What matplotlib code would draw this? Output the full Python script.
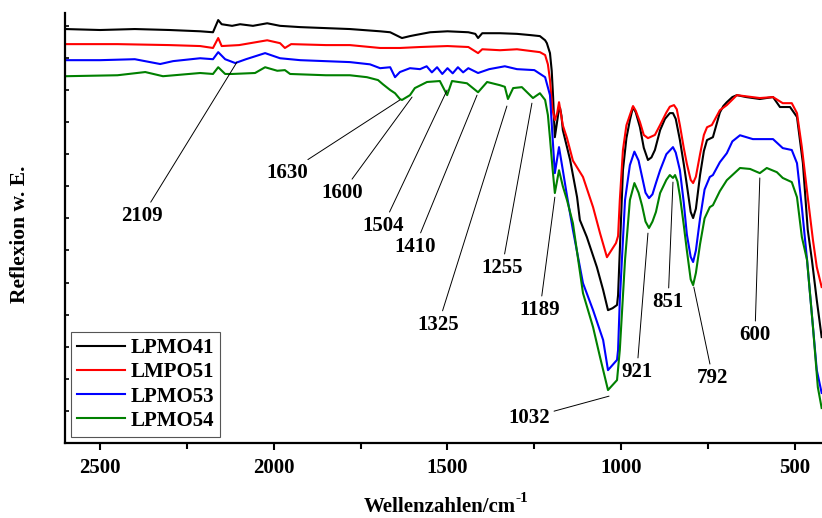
import matplotlib
matplotlib.use("Agg")
import matplotlib.pyplot as plt

plt.rcParams['font.family'] = ['Liberation Serif', 'DejaVu Serif']
plt.rcParams['font.weight'] = 'bold'

# ---- data (wavenumber in cm^-1, reflectance in arbitrary units) ----
wn_lpmo41 = [2600, 2500, 2400, 2300, 2212, 2175, 2160, 2150, 2120, 2097, 2060, 2019, 1982, 1924,
             1781, 1694, 1665, 1637, 1631, 1608, 1594, 1550, 1500, 1440, 1420, 1412, 1400, 1349,
             1300, 1260, 1234, 1219, 1214, 1205, 1200, 1196, 1191, 1186, 1180, 1176, 1172, 1168,
             1147, 1127, 1119, 1099, 1070, 1052, 1038, 1025, 1012, 1009, 1004, 995, 985, 975, 966,
             958, 946, 935, 923, 913, 903, 888, 874, 860, 851, 843, 831, 820, 811, 800, 793, 785,
             773, 762, 753, 736, 716, 706, 696, 680, 667, 640, 601, 563, 543, 514, 494, 477, 463,
             451, 437, 423]
r_lpmo41 = [1.290, 1.287, 1.290, 1.287, 1.283, 1.280, 1.318, 1.305, 1.300, 1.305, 1.300, 1.308,
            1.300, 1.296, 1.290, 1.283, 1.280, 1.265, 1.262, 1.268, 1.271, 1.280, 1.283, 1.280,
            1.275, 1.262, 1.277, 1.277, 1.275, 1.271, 1.268, 1.255, 1.246, 1.215, 1.160, 1.078,
            0.953, 0.990, 1.035, 1.044, 1.020, 0.975, 0.882, 0.766, 0.695, 0.642, 0.548, 0.477,
            0.414, 0.420, 0.430, 0.461, 0.600, 0.850, 0.950, 1.006, 1.047, 1.030, 0.984, 0.920,
            0.882, 0.890, 0.913, 0.975, 1.010, 1.028, 1.028, 1.010, 0.944, 0.870, 0.804, 0.720,
            0.701, 0.730, 0.835, 0.910, 0.944, 0.953, 1.030, 1.050, 1.062, 1.078, 1.084, 1.078,
            1.072, 1.078, 1.047, 1.047, 1.016, 0.872, 0.664, 0.570, 0.445, 0.330]

wn_lmpo51 = [2600, 2450, 2300, 2212, 2175, 2160, 2150, 2100, 2019, 1982, 1968, 1950, 1850, 1781,
             1694, 1637, 1579, 1500, 1440, 1412, 1400, 1349, 1300, 1234, 1219, 1211, 1205, 1198,
             1191, 1184, 1179, 1168, 1156, 1139, 1110, 1081, 1061, 1041, 1015, 1009, 1004, 995,
             985, 975, 966, 958, 946, 935, 923, 913, 903, 888, 870, 860, 848, 840, 831, 820, 811,
             800, 793, 785, 773, 762, 753, 739, 716, 696, 667, 601, 563, 535, 509, 494, 480, 463,
             448, 437, 423]
r_lmpo51 = [1.243, 1.243, 1.240, 1.237, 1.231, 1.262, 1.237, 1.240, 1.255, 1.246, 1.231, 1.243,
            1.240, 1.240, 1.231, 1.231, 1.234, 1.237, 1.234, 1.215, 1.227, 1.224, 1.227, 1.218,
            1.209, 1.180, 1.131, 1.040, 1.006, 1.030, 1.062, 0.990, 0.950, 0.880, 0.829, 0.735,
            0.654, 0.579, 0.623, 0.645, 0.757, 0.913, 0.990, 1.022, 1.050, 1.035, 1.000, 0.960,
            0.950, 0.955, 0.960, 0.991, 1.030, 1.048, 1.053, 1.040, 0.990, 0.920, 0.870, 0.820,
            0.810, 0.830, 0.900, 0.960, 0.984, 0.991, 1.037, 1.053, 1.084, 1.075, 1.078, 1.059,
            1.059, 1.028, 0.922, 0.766, 0.632, 0.548, 0.486]

wn_lpmo53 = [2600, 2500, 2400, 2327, 2290, 2212, 2175, 2160, 2140, 2111, 2080, 2025, 1982, 1924,
             1781, 1723, 1694, 1665, 1651, 1637, 1608, 1579, 1560, 1545, 1530, 1515, 1500, 1485,
             1470, 1455, 1440, 1412, 1380, 1335, 1300, 1250, 1219, 1205, 1198, 1191, 1179, 1168,
             1156, 1139, 1110, 1081, 1052, 1038, 1012, 1009, 1004, 989, 975, 962, 950, 940, 930,
             920, 910, 900, 888, 870, 851, 843, 831, 820, 811, 800, 793, 785, 773, 760, 745, 736,
             716, 696, 680, 658, 621, 563, 535, 509, 494, 480, 465, 437, 423]
r_lpmo53 = [1.193, 1.193, 1.196, 1.181, 1.190, 1.199, 1.196, 1.218, 1.196, 1.184, 1.196, 1.215,
            1.199, 1.193, 1.187, 1.180, 1.168, 1.171, 1.140, 1.156, 1.168, 1.165, 1.174, 1.155,
            1.171, 1.150, 1.168, 1.152, 1.171, 1.155, 1.168, 1.153, 1.165, 1.174, 1.165, 1.162,
            1.140, 1.084, 0.960, 0.841, 0.922, 0.850, 0.770, 0.664, 0.498, 0.414, 0.321, 0.227,
            0.259, 0.290, 0.445, 0.757, 0.866, 0.908, 0.880, 0.830, 0.780, 0.763, 0.775, 0.810,
            0.850, 0.900, 0.922, 0.905, 0.850, 0.750, 0.650, 0.580, 0.564, 0.600, 0.700, 0.790,
            0.829, 0.835, 0.875, 0.903, 0.940, 0.959, 0.947, 0.947, 0.919, 0.913, 0.872, 0.735,
            0.570, 0.227, 0.156]

wn_lpmo54 = [2600, 2450, 2370, 2319, 2212, 2175, 2160, 2140, 2120, 2054, 2025, 1990, 1968, 1953,
             1850, 1781, 1732, 1700, 1686, 1665, 1651, 1637, 1631, 1608, 1594, 1559, 1522, 1501,
             1487, 1444, 1412, 1386, 1349, 1335, 1326, 1311, 1286, 1254, 1234, 1219, 1211, 1205,
             1198, 1191, 1179, 1168, 1156, 1139, 1110, 1081, 1061, 1038, 1012, 1004, 989, 975,
             962, 950, 940, 930, 920, 910, 900, 888, 870, 860, 851, 845, 838, 831, 820, 811, 800,
             793, 785, 773, 760, 745, 736, 716, 696, 658, 629, 601, 581, 552, 535, 509, 494, 480,
             465, 448, 434, 423]
r_lpmo54 = [1.143, 1.146, 1.156, 1.143, 1.153, 1.150, 1.171, 1.150, 1.150, 1.153, 1.171, 1.160,
            1.162, 1.150, 1.146, 1.146, 1.140, 1.131, 1.118, 1.100, 1.090, 1.072, 1.069, 1.084,
            1.106, 1.125, 1.128, 1.084, 1.128, 1.121, 1.093, 1.125, 1.115, 1.110, 1.072, 1.106,
            1.109, 1.075, 1.090, 1.069, 1.022, 0.950, 0.860, 0.779, 0.850, 0.800, 0.757, 0.685,
            0.467, 0.361, 0.268, 0.165, 0.196, 0.290, 0.570, 0.757, 0.810, 0.780, 0.740, 0.690,
            0.670, 0.690, 0.720, 0.779, 0.820, 0.835, 0.826, 0.835, 0.815, 0.770, 0.680, 0.600,
            0.510, 0.492, 0.530, 0.620, 0.700, 0.735, 0.741, 0.785, 0.819, 0.857, 0.854, 0.841,
            0.857, 0.844, 0.826, 0.813, 0.766, 0.642, 0.570, 0.361, 0.174, 0.109]

series_names = ["LPMO41", "LMPO51", "LPMO53", "LPMO54"]
series_colors = ["black", "red", "blue", "green"]

# peak labels: label, peak point (wn, value), label position (wn, value)
peak_labels = ["2109", "1630", "1600", "1504", "1410", "1325", "1255", "1189",
               "921", "851", "600", "792", "1032"]
peak_wn = [2106, 1637, 1602, 1501, 1415, 1329, 1257, 1191, 923, 851, 601, 791, 1035]
peak_val = [1.187, 1.069, 1.078, 1.100, 1.084, 1.050, 1.059, 0.766, 0.654, 0.813, 0.826, 0.486, 0.146]
label_wn = [2379, 1962, 1804, 1686, 1594, 1527, 1343, 1234, 955, 865, 615, 736, 1265]
label_val = [0.707, 0.841, 0.779, 0.676, 0.611, 0.368, 0.545, 0.414, 0.221, 0.439, 0.336, 0.202, 0.078]

xmajor = [2500, 2000, 1500, 1000, 500]
xminor = [2250, 1750, 1250, 750]
yticks = [0.1, 0.2, 0.3, 0.4, 0.5, 0.6, 0.7, 0.8, 0.9, 1.0, 1.1, 1.2, 1.3]

# ---- figure ----
fig = plt.figure(figsize=(8.22, 5.18), dpi=100)
ax = fig.add_axes([65 / 822, 75 / 518, 757 / 822, 430 / 518])

all_x = [wn_lpmo41, wn_lmpo51, wn_lpmo53, wn_lpmo54]
all_y = [r_lpmo41, r_lmpo51, r_lpmo53, r_lpmo54]
for xs, ys, name, c in zip(all_x, all_y, series_names, series_colors):
    ax.plot(xs, ys, color=c, lw=1.5, label=name, solid_joinstyle='round')

for lab, px, pv, lx, lv in zip(peak_labels, peak_wn, peak_val, label_wn, label_val):
    ax.annotate(lab, xy=(px, pv), xytext=(lx, lv), ha='center', va='center',
                fontsize=15, fontweight='bold',
                arrowprops=dict(arrowstyle='-', color='black', lw=0.7,
                                shrinkA=1, shrinkB=0))

ax.set_xlim(2601, 422)
ax.set_ylim(0, 1.34)
ax.set_xticks(xmajor)
ax.set_xticks(xminor, minor=True)
ax.set_yticks(yticks)
ax.set_yticklabels([])
ax.tick_params(axis='x', which='major', direction='out', length=5, width=1.5,
               labelsize=15, pad=6)
ax.tick_params(axis='x', which='minor', direction='out', length=4, width=1.5)
ax.tick_params(axis='y', which='major', direction='in', length=3, width=1.2)
for lbl in ax.get_xticklabels():
    lbl.set_fontweight('bold')

ax.spines['top'].set_visible(False)
ax.spines['right'].set_visible(False)
ax.spines['left'].set_linewidth(1.6)
ax.spines['bottom'].set_linewidth(1.6)

fig.text(516 / 822, 1 - 512 / 518, "Wellenzahlen/cm", ha='right', va='baseline',
         fontsize=15, fontweight='bold')
fig.text(515 / 822, 1 - 502 / 518, "-1", ha='left', va='baseline',
         fontsize=11, fontweight='bold')
fig.text(20 / 822, 1 - 234 / 518, "Reflexion w. E.", ha='center', va='center',
         rotation=90, fontsize=15.5, fontweight='bold')

leg = ax.legend(loc='lower left', bbox_to_anchor=(0.008, 0.014), fontsize=15,
                frameon=True, fancybox=False, edgecolor='#555555', framealpha=1,
                handlelength=2.3, handletextpad=0.25, labelspacing=0.2,
                borderpad=0.3, borderaxespad=0)
leg.get_frame().set_linewidth(0.8)
for t in leg.get_texts():
    t.set_fontweight('bold')

fig.savefig("out.png", dpi=100)
